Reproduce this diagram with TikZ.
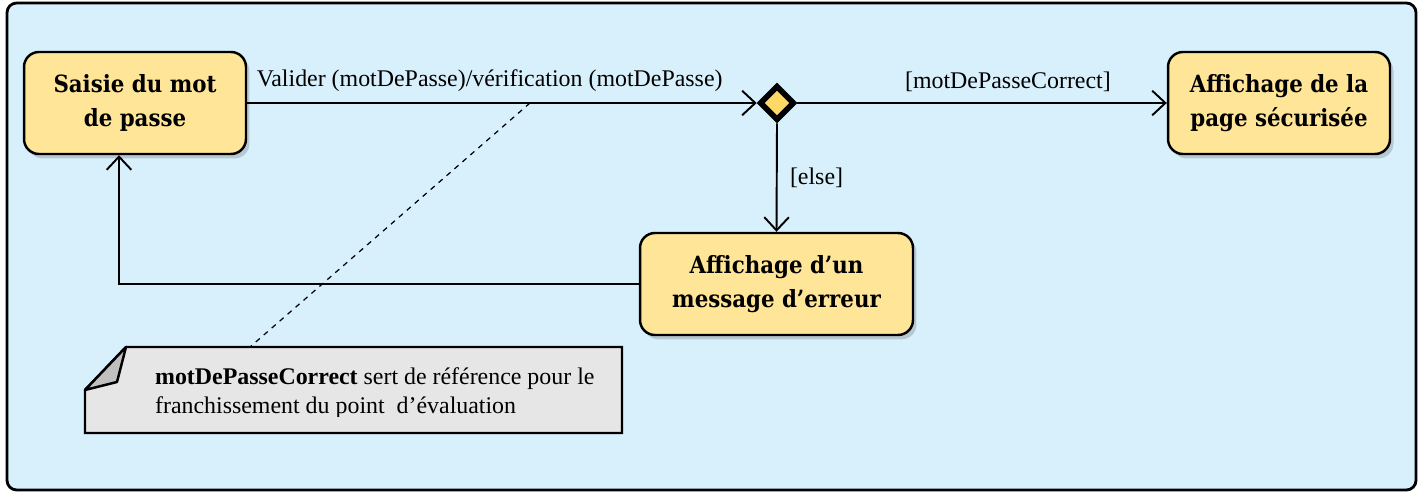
\documentclass[tikz,border=0pt]{standalone}
\usepackage{fontspec}
\setmainfont{Liberation Serif}
\newfontfamily\boxfont{DejaVu Serif Condensed}
\usetikzlibrary{arrows.meta,shadows,shapes.geometric}
\definecolor{bgblue}{HTML}{D7F0FC}
\definecolor{boxfill}{HTML}{FFE597}
\definecolor{diafill}{HTML}{FFD966}
\definecolor{notefill}{HTML}{E6E6E6}
\definecolor{foldfill}{HTML}{C0C0C0}
\begin{document}
\begin{tikzpicture}[x=0.02cm,y=-0.02cm,
  state/.style={draw=black, line width=1.4pt, fill=boxfill, rounded corners=8.5pt,
    minimum width=4.44cm, minimum height=2.04cm, align=center,
    font=\boxfont\bfseries\fontsize{13.5}{19.5}\selectfont,
    drop shadow={opacity=0.35, shadow xshift=2pt, shadow yshift=-2.5pt}},
  decision/.style={diamond, draw=black, line width=3.2pt, fill=diafill, aspect=1,
    minimum width=0.7cm, minimum height=0.7cm, inner sep=0pt},
  arr/.style={line width=1.1pt, -{Straight Barb[length=7.5pt,width=14pt,line width=1.1pt]}},
  lbl/.style={font=\fontsize{13.6}{15}\selectfont, inner sep=1pt},
  link/.style={dashed, line width=0.7pt}]
\useasboundingbox (0,0) rectangle (1423,493);
% outer frame
\draw[line width=1.6pt, fill=bgblue, rounded corners=5.5pt] (7,3) rectangle (1416,490);
% nodes
\node[state] (s1) at (135,103) {Saisie du mot\\de passe};
\node[state] (s3) at (1279,103) {Affichage de la\\page sécurisée};
\node[state, minimum width=5.46cm] (s2) at (776.5,284) {Affichage d’un\\message d’erreur};
\node[decision] (d) at (777,103) {};
% connectors
\draw[arr] (s1.east) -- node[lbl, above=5pt, xshift=-7] {Valider (motDePasse)/vérification (motDePasse)} (d.west);
\draw[arr] (d.east) -- node[lbl, pos=0.57, above=5pt] {[motDePasseCorrect]} (s3.west);
\draw[arr] (d.south) -- node[lbl, right=6pt] {[else]} (s2.north);
\coordinate (ret) at (119,284);
\draw[arr] (s2.west) -- (ret) -- (ret |- s1.south);
% note
\coordinate (nA) at (126,347);
\coordinate (nB) at (622,347);
\coordinate (nC) at (622,433);
\coordinate (nD) at (85,433);
\coordinate (nE) at (85,390);
\coordinate (nF) at (117,382);
\draw[line width=1.4pt, fill=notefill] (nA) -- (nB) -- (nC) -- (nD) -- (nE) -- cycle;
\draw[line width=1.4pt, fill=foldfill, line join=round] (nA) -- (nF) -- (nE) -- cycle;
\begin{scope}
\clip (100,350) rectangle (620,416);
\node[lbl, anchor=base west, align=left, font=\fontsize{13.6}{16.5}\selectfont] (notetext) at (153,413)
  {\textbf{motDePasseCorrect} sert de référence pour le\\franchissement du point\ \ d’évaluation};
\end{scope}
\coordinate (dashend) at (530,103);
\coordinate (notetop) at (250,347);
\draw[link] (dashend) -- (notetop);
\end{tikzpicture}
\end{document}
